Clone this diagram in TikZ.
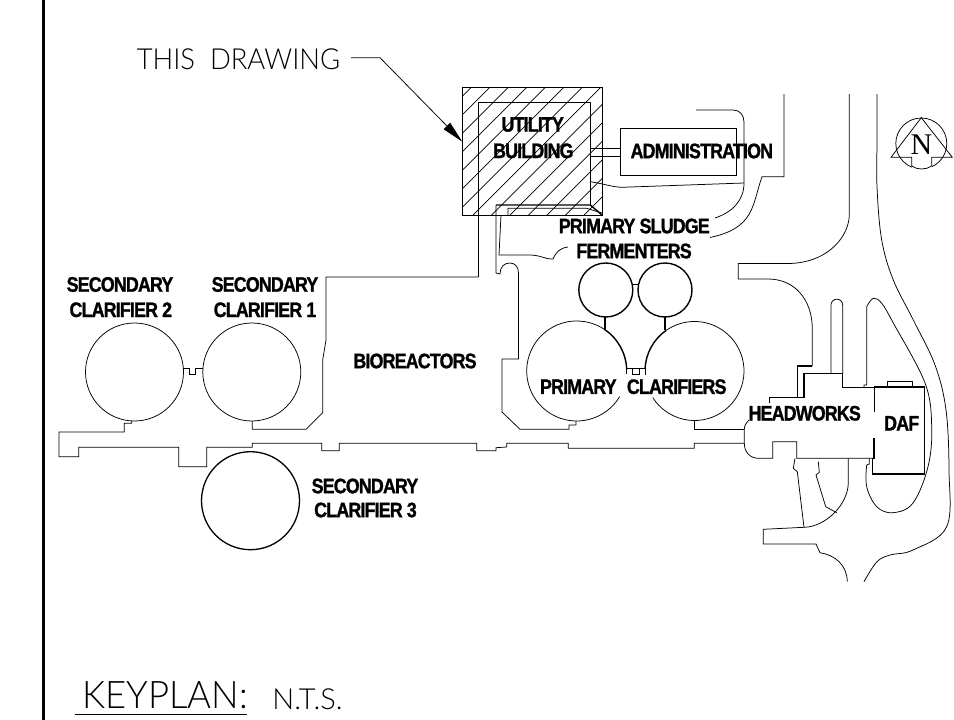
\documentclass[tikz,border=0pt]{standalone}
\usepackage{fontspec}
\usetikzlibrary{arrows.meta}
\newfontfamily\lblfont[LetterSpace=-4,FakeStretch=0.85,FakeBold=1.2]{Liberation Sans}
\newfontfamily\thinfont[UprightFont=* Light]{Lato}
\newfontfamily\northfont{Liberation Serif}
\tikzset{
    road/.style={line width=0.75pt},
    wall/.style={line width=1.4pt},
    lbl/.style={inner sep=0pt,font=\lblfont\fontsize{21}{23}\selectfont\bfseries},
    thin label/.style={inner sep=0pt,font=\thinfont\fontsize{29}{31}\selectfont}
}
\begin{document}
\begin{tikzpicture}[x=1pt,y=-1pt]
    \useasboundingbox (0,0) rectangle (954,720);

    % Sheet border on the left
    \draw[line width=3pt] (43,0) -- (43,720);

    % Hatched footprint of the utility building
    \begin{scope}
        \clip (462,87) rectangle (602.3,215);
        \foreach \s in {558.7,577.2,...,830} {
            \draw[line width=0.7pt] (\s-80,80) -- (\s-220,220);
        }
    \end{scope}
    \draw[road] (462,87) rectangle (602.3,215);
    \draw[road] (478.3,277) -- (478.3,102.7) -- (590.3,102.7) -- (590.3,205);

    % Leader from the drawing note
    \node[thin label,xscale=0.945] (thisdrawing) at (238.5,59.5) {THIS\ \ DRAWING};
    \coordinate (leaderstart) at (351,57.7);
    \coordinate (leaderbend) at (380,57.7);
    \coordinate (leadertip) at (462.3,141.7);
    \draw[road,-{Triangle[length=22pt,width=9pt]}] (leaderstart) -- (leaderbend) -- (leadertip);

    % Pipe run under the building
    \draw[wall] (496,205) -- (590.3,205) -- (602,215);
    \draw[road] (508,215) -- (508,208.3) -- (586.7,208.3) -- (602,213);
    \draw[road] (496,205) -- (496,273) -- (500,274)
        .. controls (500,267) and (504,263) .. (510,263)
        .. controls (515,263) and (518.5,267) .. (518.5,273)
        -- (518.5,359) -- (502,359) -- (502,412) -- (520,429.3)
        -- (569,429.3) -- (569,425) -- (576,425) -- (576,421);
    \draw[road] (501,215) -- (499,255) -- (530,255)
        .. controls (540,255) and (548,260) .. (553,259)
        .. controls (556,252) and (560,248) .. (568,247);

    % Bioreactor wall
    \draw[road] (478.3,277) -- (326,277) -- (326,340) -- (322.7,360) -- (322.7,412.7)
        -- (306,429.3) -- (252.3,429.3) -- (252.3,421);

    % Administration and the road around it
    \draw[road] (620,128) rectangle (736,175);
    \draw[road] (590.3,148) -- (620,148);
    \draw[road] (590.3,156) -- (620,156);
    \draw[road] (696,110) -- (733,110) .. controls (740,110) and (744,115) .. (744,122)
        -- (744,183) .. controls (744,200) and (733,212) .. (715,218);
    \draw[road] (590.3,181.7) .. controls (605,184) and (612,187) .. (622,187.3) -- (744,183);
    \draw[road] (784,94) -- (784,176.7) -- (762,176.7)
        .. controls (752,205) and (755,228) .. (710,237.5);

    % Secondary clarifiers
    \draw[road] (134.5,372) circle[radius=49];
    \draw[road] (251.8,372) circle[radius=49];
    \draw[road] (183.3,368.3) -- (189,368.3) -- (189,374.3) -- (195.7,374.3) -- (195.7,368.3) -- (203.3,368.3);
    \draw[line width=1.3pt] (250.5,500.7) circle[radius=49];

    % Fermenters
    \draw[wall] (605.8,290) circle[radius=27];
    \draw[wall] (665,290) circle[radius=27];
    \draw[road] (632.8,284) -- (638,284);
    \draw[wall] (605,317) -- (605,328.5);
    \draw[wall] (665,317) -- (665,330);

    % Primary clarifiers, open behind the label
    \draw[road] (576.7,371) ++(30.7:50) arc[start angle=30.7,end angle=303.4,radius=50];
    \draw[wall] (576.7,371) ++(303.4:50) arc[start angle=303.4,end angle=358,radius=50];
    \draw[road] (694.5,371) ++(147.5:49.5) arc[start angle=147.5,end angle=-125,radius=49.5];
    \draw[wall] (694.5,371) ++(235:49.5) arc[start angle=235,end angle=183,radius=49.5];
    \draw[wall] (626.7,368.3) -- (645,368.3);
    \draw[road] (632.3,368.3) -- (632.3,374.3) -- (639.3,374.3) -- (639.3,368.3);
    \draw[road] (626.7,368.3) -- (626.7,374.3);
    \draw[road] (645,368.3) -- (645,375);

    % Channel along the bottom
    \draw[road] (131.7,421) -- (131.7,423.3) -- (124.3,423.3) -- (124.3,432) -- (59,432)
        -- (59,456.7) -- (78.7,456.7) -- (78.7,447.3) -- (178.7,447.3) -- (178.7,466.7)
        -- (206.7,466.7) -- (206.7,447.3) -- (252.3,447.3) -- (252.3,443.3) -- (321.7,443.3)
        -- (321.7,450.7) -- (339.3,450.7) -- (339.3,443.3) -- (476.7,443.3) -- (476.7,450.7)
        -- (496,450.7) -- (496,447.7) -- (506.7,447) -- (506.7,443.3) -- (568.3,443.3)
        -- (568.3,448.3) -- (694.3,448.3) -- (694.3,443.3) -- (744.3,443.3);
    \draw[road] (694.3,421) -- (694.3,429.3) -- (744.3,429.3);

    % Headworks
    \draw[road] (749,420) .. controls (747,422) and (744.3,425) .. (744.3,429.3) -- (744.3,443.3)
        .. controls (744.3,452) and (750,458.3) .. (758.3,458.3) -- (772.7,458.3)
        -- (772.7,441.7) -- (796.7,441.7) -- (796.7,458.3) -- (873,458.3);
    \draw[road] (769.3,403) -- (769.3,397.3) -- (797.7,397.3);
    \draw[wall] (797.7,397.3) -- (804,397.3) -- (804,373.3);
    \draw[wall] (797.7,397.3) -- (797.7,366) -- (812.3,366);
    \draw[road] (804,373.3) -- (842.7,373.3) -- (842.7,387) -- (874,387);

    % DAF
    \draw[wall] (874,387) -- (924.3,387) -- (924.3,474) -- (872.7,474) -- (872.7,458.3) -- (874,458.3) -- (874,438.3);
    \draw[road] (874,387) -- (874,411.7);
    \draw[road] (887.3,387) -- (887.3,381) -- (912,381) -- (912,387);

    % Site roads on the right
    \draw[road] (849.3,94) -- (849.3,215) .. controls (849,235) and (830,262) .. (790,263.5) -- (738.3,263.5)
        -- (738.3,279) -- (768,279) .. controls (795,279) and (812,300) .. (812.3,328) -- (812.3,366);
    \draw[road] (831,373.3) -- (831,305) arc[start angle=180,end angle=360,radius=5.85] -- (842.7,373.3);
    \draw[road] (864,387) -- (864,385) -- (866.7,385) -- (866.7,306.7)
        plot[smooth,tension=0.6] coordinates {(866.7,306.7) (873.3,298.3) (881.7,303.3) (893.3,323)
        (925,383) (931.7,426.7) (928,466.7) (913,503) (893,512.7) (876.7,506.7) (866.7,486.7) (866.7,465)};
    \draw[road] (866.7,465) -- (869.3,464) -- (869.3,458.3);
    \draw[road] plot[smooth,tension=0.6] coordinates {(877,94) (877,140) (877,186.7) (881.7,240) (893.3,280)
        (913.3,320) (935,365) (946,410) (949,470) (946.7,526.7) (913,550) (890,555) (876.7,562) (864,581.7)};
    \draw[road] (848.3,458.3) -- (848.3,483) .. controls (848,505) and (825,527) .. (804,527.3)
        -- (763.3,529.3) -- (763.3,544) -- (816,544) -- (820,552.7)
        .. controls (835,555) and (847,565) .. (847.3,581.7);
    \draw[road] (795,458.3) -- (793.3,468.3) -- (797.3,471.7) -- (804,527.3);
    \draw[road] (818.3,461.7) -- (819.3,472.3) -- (816,475) -- (825.7,506.7) -- (836.7,512.7);

    % North arrow
    \draw[road] (921.3,143.5) circle[radius=25.5];
    \fill[white] (911.7,157.3) rectangle (931.7,170);
    \draw[road] (911.7,166) -- (911.7,157.3) -- (891,157.3) -- (921.3,117.7)
        -- (952.3,157.3) -- (931.7,157.3) -- (931.7,166);
    \draw[road] (911.7,166) .. controls (917,170) and (926,170) .. (931.7,166);
    \node[inner sep=0pt,font=\northfont\fontsize{30}{32}\selectfont] (north) at (921.5,145) {N};

    % Labels
    \node[lbl] (utility) at (532.7,124.5) {UTILITY};
    \node[lbl] (building) at (533.3,150.8) {BUILDING};
    \node[lbl] (admin) at (701.8,151) {ADMINISTRATION};
    \node[lbl] (sludge) at (634.3,226) {PRIMARY SLUDGE};
    \node[lbl] (fermenters) at (634,251) {FERMENTERS};
    \node[lbl] (sectwoa) at (120,284.5) {SECONDARY};
    \node[lbl] (sectwob) at (120.8,309.8) {CLARIFIER 2};
    \node[lbl] (seconea) at (265,284.5) {SECONDARY};
    \node[lbl] (seconeb) at (265,309.8) {CLARIFIER 1};
    \node[lbl] (bioreactors) at (415,361) {BIOREACTORS};
    \node[lbl] (primary) at (578.3,386.7) {PRIMARY};
    \node[lbl] (clarifiers) at (676.7,386.7) {CLARIFIERS};
    \node[lbl] (headworks) at (804.7,413.3) {HEADWORKS};
    \node[lbl] (daf) at (901.7,423.3) {DAF};
    \node[lbl] (secthreea) at (365,486) {SECONDARY};
    \node[lbl] (secthreeb) at (365.5,510) {CLARIFIER 3};

    % Title
    \node[thin label,xscale=0.96,font=\thinfont\fontsize{38}{40}\selectfont] (keyplan) at (165,695.5) {KEYPLAN:};
    \draw[road] (75,714.7) -- (246.7,714.7);
    \node[thin label] (nts) at (307.5,699) {N.T.S.};
\end{tikzpicture}
\end{document}
